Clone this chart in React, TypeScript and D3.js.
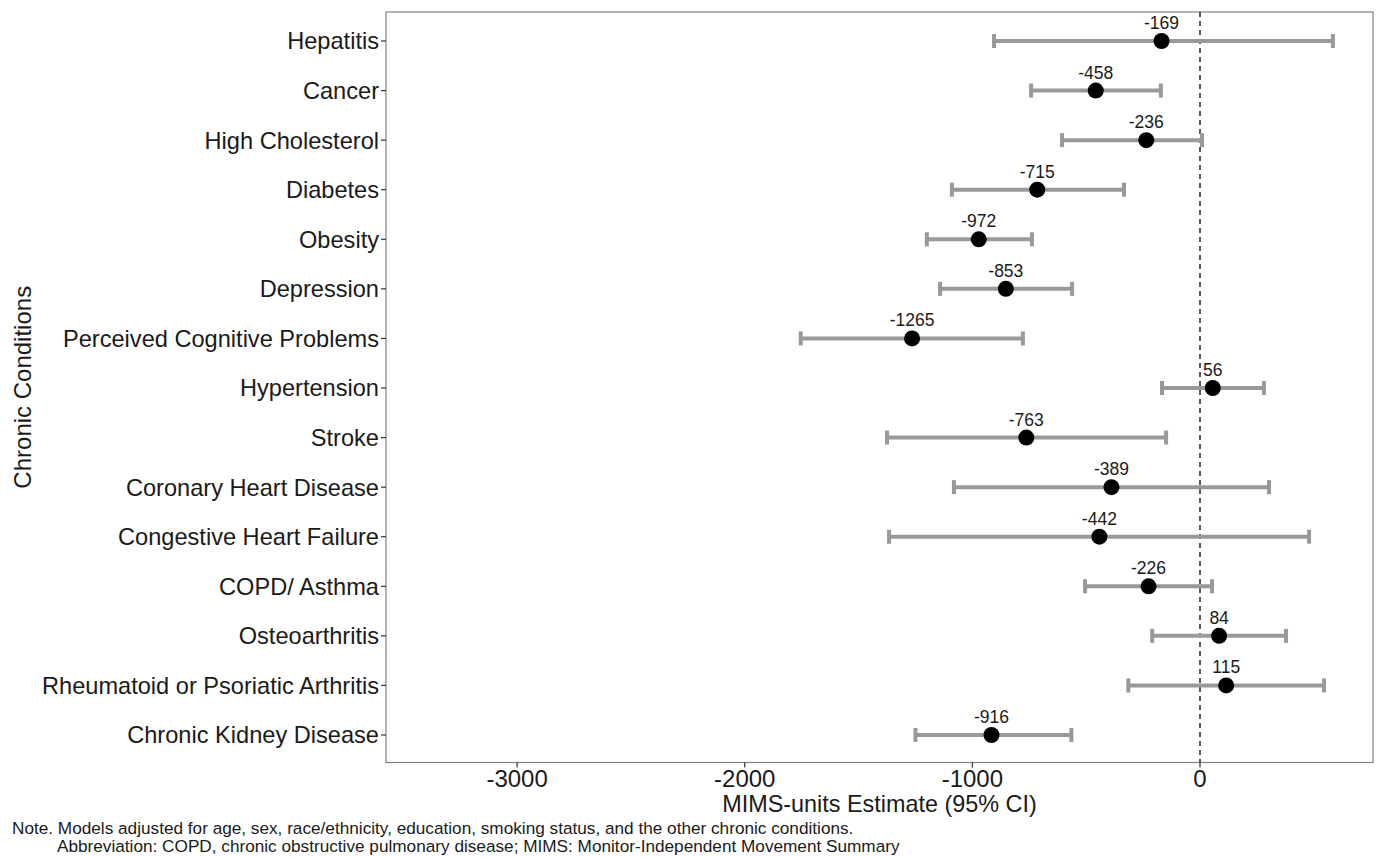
import * as d3 from "d3";

const conditions = [
  "Hepatitis",
  "Cancer",
  "High Cholesterol",
  "Diabetes",
  "Obesity",
  "Depression",
  "Perceived Cognitive Problems",
  "Hypertension",
  "Stroke",
  "Coronary Heart Disease",
  "Congestive Heart Failure",
  "COPD/ Asthma",
  "Osteoarthritis",
  "Rheumatoid or Psoriatic Arthritis",
  "Chronic Kidney Disease",
];
const estimates = [-169, -458, -236, -715, -972, -853, -1265, 56, -763, -389, -442, -226, 84, 115, -916];
const lower = [-905, -742, -606, -1090, -1200, -1142, -1754, -167, -1375, -1081, -1366, -505, -210, -315, -1250];
const upper = [584, -172, 9, -334, -738, -562, -778, 281, -149, 303, 479, 53, 378, 545, -565];
const xTicks = [-3000, -2000, -1000, 0];

export default function App() {
  const width = 1379;
  const height = 857;
  const marginLeft = 386;
  const marginRight = 6;
  const marginTop = 12;
  const plotBottom = 762.5;

  const x = d3.scaleLinear([-3576, 760], [marginLeft, width - marginRight]);
  const y = d3
    .scalePoint<string>()
    .domain(conditions)
    .range([41, 735]);

  const font = "'Liberation Sans', Arial, sans-serif";
  const barColor = "#999999";

  return (
    <div style={{ position: "absolute", left: 0, top: 0 }}>
      <svg width={width} height={height} style={{ display: "block", background: "white" }} fontFamily={font}>
        {/* panel */}
        <rect
          x={marginLeft}
          y={marginTop}
          width={width - marginRight - marginLeft}
          height={plotBottom - marginTop}
          fill="white"
          stroke="#7f7f7f"
          strokeWidth={1.2}
        />
        {/* zero reference */}
        <line
          x1={x(0)}
          x2={x(0)}
          y1={marginTop}
          y2={plotBottom}
          stroke="#222"
          strokeWidth={1.5}
          strokeDasharray="5,4"
        />
        {/* y ticks + labels */}
        {conditions.map((c) => (
          <g key={c}>
            <line x1={marginLeft - 5} x2={marginLeft} y1={y(c)} y2={y(c)} stroke="#333" strokeWidth={1.2} />
            <text x={marginLeft - 7} y={y(c)} dy="0.36em" textAnchor="end" fontSize={23.6} fill="#1a1a1a">
              {c}
            </text>
          </g>
        ))}
        {/* x ticks + labels */}
        {xTicks.map((t) => (
          <g key={t}>
            <line x1={x(t)} x2={x(t)} y1={plotBottom} y2={plotBottom + 5} stroke="#333" strokeWidth={1.2} />
            <text x={x(t)} y={plotBottom + 24} textAnchor="middle" fontSize={24} fill="#1a1a1a">
              {t}
            </text>
          </g>
        ))}
        {/* error bars */}
        {conditions.map((c, i) => {
          const cy = y(c) as number;
          return (
            <g key={c}>
              <line x1={x(lower[i])} x2={x(upper[i])} y1={cy} y2={cy} stroke={barColor} strokeWidth={4} />
              <line x1={x(lower[i])} x2={x(lower[i])} y1={cy - 7} y2={cy + 7} stroke={barColor} strokeWidth={4} />
              <line x1={x(upper[i])} x2={x(upper[i])} y1={cy - 7} y2={cy + 7} stroke={barColor} strokeWidth={4} />
              <circle cx={x(estimates[i])} cy={cy} r={8} fill="black" />
              <text x={x(estimates[i])} y={cy - 12} textAnchor="middle" fontSize={17.5} fill="#1a1a1a">
                {estimates[i]}
              </text>
            </g>
          );
        })}
        {/* axis titles */}
        <text x={(marginLeft + width - marginRight) / 2} y={812} textAnchor="middle" fontSize={23.4} fill="#1a1a1a">
          MIMS-units Estimate (95% CI)
        </text>
        <text
          transform={`translate(31,${(marginTop + plotBottom) / 2}) rotate(-90)`}
          textAnchor="middle"
          fontSize={24}
          fill="#1a1a1a"
        >
          Chronic Conditions
        </text>
        {/* note */}
        <text x={12} y={834} fontSize={17.2} fill="#1a1a1a">
          Note. Models adjusted for age, sex, race/ethnicity, education, smoking status, and the other chronic conditions.
        </text>
        <text x={57} y={852} fontSize={17.2} fill="#1a1a1a">
          Abbreviation: COPD, chronic obstructive pulmonary disease; MIMS: Monitor-Independent Movement Summary
        </text>
      </svg>
    </div>
  );
}
